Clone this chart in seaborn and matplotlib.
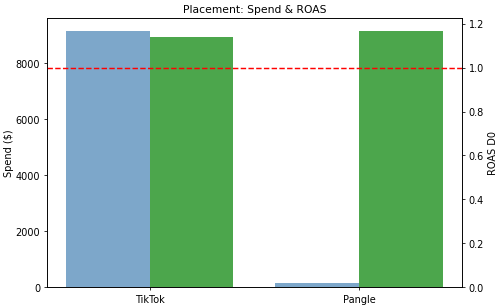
import numpy as np
import matplotlib
matplotlib.use('Agg')
import matplotlib.pyplot as plt
import seaborn as sns

placements = ['TikTok', 'Pangle']
spend = [9135, 130]
roas_d0 = [1.14, 1.166]

x = np.arange(len(placements))
w = 0.4

fig, ax = plt.subplots(figsize=(7.14, 4.41), dpi=70)
sns.barplot(x=x - w / 2, y=spend, native_scale=True, width=w, color='steelblue',
            alpha=0.7, saturation=1, linewidth=0, ax=ax)
ax.set_ylabel('Spend ($)', labelpad=2)

ax2 = ax.twinx()
sns.barplot(x=x + w / 2, y=roas_d0, native_scale=True, width=w, color='green',
            alpha=0.7, saturation=1, linewidth=0, ax=ax2)
ax2.axhline(1.0, color='red', linestyle='--')
ax2.set_ylabel('ROAS D0')

ax.set_xticks(x)
ax.set_xticklabels(placements)
ax.set_xlabel('')
ax.set_title('Placement: Spend & ROAS', fontsize=11)
fig.subplots_adjust(left=0.094, right=0.924, top=0.938, bottom=0.068)
fig.savefig('out.png', dpi=70)
